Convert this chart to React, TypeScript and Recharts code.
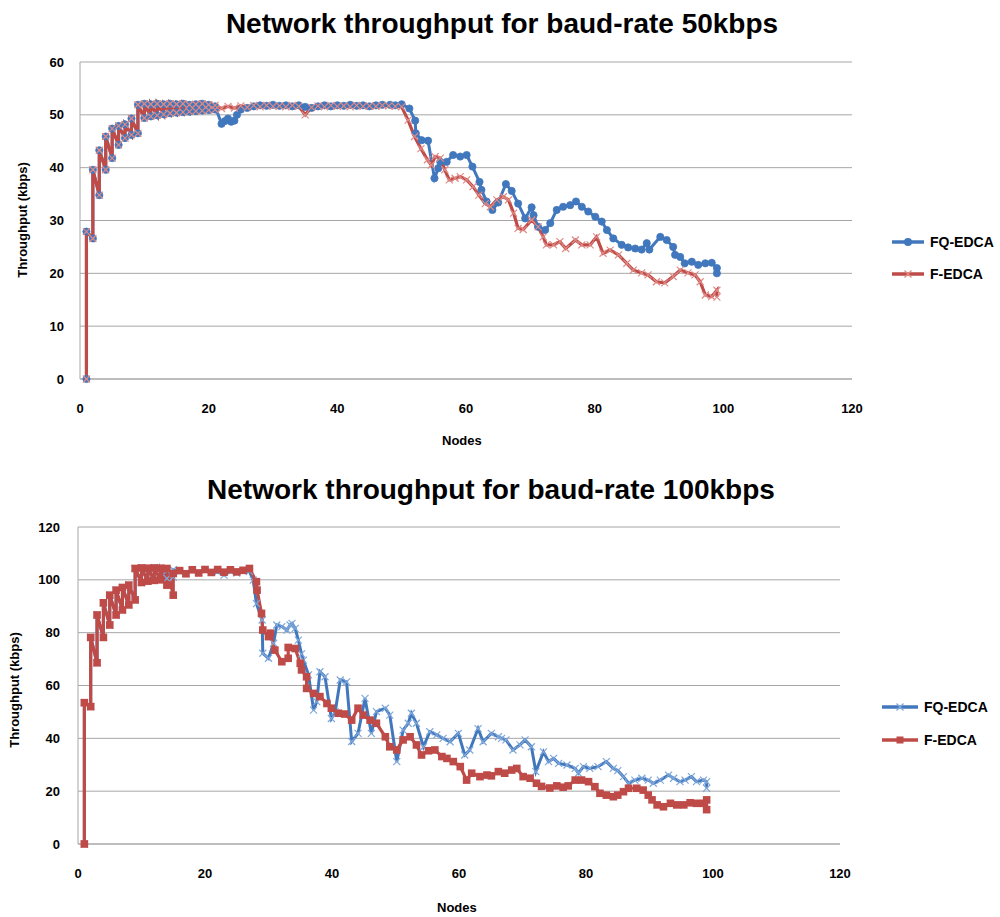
import React from "react";
import { LineChart, Line, XAxis, YAxis, CartesianGrid } from "recharts";

// ---------- data (node, throughput kbps) ----------
const TITLE_TOP = "Network throughput for baud-rate 50kbps";
const TITLE_BOTTOM = "Network throughput for baud-rate 100kbps";
const SERIES_NAMES = ["FQ-EDCA", "F-EDCA"];
const X_TICKS = [0, 20, 40, 60, 80, 100, 120];
const Y_TICKS_TOP = [0, 10, 20, 30, 40, 50, 60];
const Y_TICKS_BOTTOM = [0, 20, 40, 60, 80, 100, 120];

const top50F: [number, number][] = [
  [1, 0], [1, 27.9], [2, 26.6], [2, 39.6], [3, 34.8], [3, 43.3], [4, 39.6], [4, 45.9], [5, 41.8], [5, 47.4],
  [6, 44.3], [6, 47.9], [7, 45.6], [7, 48.2], [8, 46.2], [8, 49.3], [9, 46.5], [9, 51.9],
  [10, 49.4], [10, 52.1], [11, 49.7], [11, 52.0], [12, 49.9], [12, 52.1], [13, 50.1], [13, 52.0],
  [14, 50.3], [14, 52.1], [15, 50.4], [15, 52.0], [16, 50.5], [16, 52.1], [17, 50.6], [17, 51.9],
  [18, 50.7], [18, 52.0], [19, 50.8], [19, 52.1], [20, 50.9], [20, 51.9], [21, 51.0], [21, 51.8],
  [22, 51.2], [23, 51.6], [24, 51.3], [25, 51.7], [26, 51.4], [27, 51.8], [28, 51.5], [29, 51.8],
  [30, 51.6], [31, 51.7], [32, 51.5], [33, 51.8], [34, 51.6], [35, 50.0], [36, 51.4], [37, 51.7],
  [38, 51.5], [39, 51.8], [40, 51.6], [41, 51.7], [42, 51.5], [43, 51.8], [44, 51.6], [45, 51.7],
  [46, 51.6], [47, 51.8], [48, 51.7], [49, 51.6], [50, 51.5], [51, 49.0], [52, 45.9], [53, 43.6],
  [54, 41.5], [54.6, 40.5], [55.2, 42.1], [56, 41.8], [56.7, 39.6], [57.4, 37.7], [58.3, 38.0],
  [59.1, 38.3], [60.1, 37.7], [61.1, 36.4], [62, 34.8], [63, 33.2], [63.8, 32.6], [64.8, 33.9],
  [65.8, 34.5], [66.6, 33.9], [67.4, 31.4], [68.1, 28.5], [68.9, 28.3], [70.2, 30.1], [71.2, 28.8],
  [72, 26.9], [72.5, 25.4], [73.6, 25.4], [74.6, 26.0], [75.5, 24.7], [77, 26.3], [78, 25.4],
  [79.3, 25.4], [80.3, 26.9], [81.3, 23.8], [82.4, 24.4], [83.7, 23.5], [85, 21.9], [86, 20.6],
  [87.3, 20.1], [88.3, 19.7], [89.6, 18.4], [90.9, 18.2], [92.2, 19.4], [93.3, 20.6], [94.5, 20.1],
  [95.6, 19.7], [96.4, 18.4], [97.2, 15.9], [98.2, 15.6], [99, 16.8], [99, 15.5],
];

const top50FQ: [number, number][] = [
  [1, 0], [1, 27.9], [2, 26.6], [2, 39.6], [3, 34.8], [3, 43.3], [4, 39.6], [4, 45.9], [5, 41.8], [5, 47.4],
  [6, 44.3], [6, 47.9], [7, 45.6], [7, 48.2], [8, 46.2], [8, 49.3], [9, 46.5], [9, 51.9],
  [10, 49.4], [10, 52.1], [11, 49.7], [11, 52.0], [12, 49.9], [12, 52.1], [13, 50.1], [13, 52.0],
  [14, 50.3], [14, 52.1], [15, 50.4], [15, 52.0], [16, 50.5], [16, 52.1], [17, 50.6], [17, 51.9],
  [18, 50.7], [18, 52.0], [19, 50.8], [19, 52.1], [20, 50.9], [20, 51.9], [21, 51.0], [21, 51.6],
  [22, 48.3], [22.5, 48.8], [23, 49.3], [23.5, 48.7], [24, 48.9], [24.4, 50.0], [25, 51.0], [26, 51.3],
  [27, 51.6], [28, 51.8], [29, 51.7], [30, 51.9], [31, 51.7], [32, 51.8], [33, 51.6], [34, 51.8],
  [35, 51.5], [36, 51.3], [37, 51.6], [38, 51.8], [39, 51.6], [40, 51.8], [41, 51.7], [42, 51.9],
  [43, 51.7], [44, 51.8], [45, 51.6], [46, 51.8], [47, 51.9], [48.2, 51.9], [49, 51.8], [50, 52.0],
  [51.2, 51.2], [52.1, 48.9], [52.2, 46.5], [53.1, 45.2], [54.1, 45.1], [55.1, 38.0], [55.7, 39.9],
  [56, 41.1], [57, 41.1], [58, 42.4], [59.1, 42.1], [60.1, 42.4], [61, 40.2], [62.1, 37.3],
  [62.4, 35.8], [63.2, 33.6], [64.1, 32.0], [65, 33.4], [66.2, 36.9], [67.1, 35.6], [68.1, 33.2],
  [69.2, 30.4], [70.2, 32.5], [70.5, 31.0], [71.2, 28.8], [72.3, 28.2], [73.1, 29.5], [74.1, 32.0],
  [75.1, 32.6], [76.2, 32.9], [77.1, 33.6], [78, 32.6], [79, 31.7], [80.1, 30.7], [81.1, 29.8],
  [81.9, 28.2], [82.9, 26.6], [84.2, 25.4], [85.2, 24.9], [86.3, 24.7], [87.3, 24.5], [88.1, 25.7],
  [88.5, 24.5], [90.2, 26.9], [91.2, 26.3], [92.2, 25.0], [92.5, 23.5], [93.3, 23.1], [94, 21.9],
  [95.1, 22.2], [96.1, 21.6], [97.2, 21.9], [98.2, 22.0], [99, 21.0], [99, 20.0],
];

const bot100F: [number, number][] = [
  [1, 0], [1, 53.5], [2, 52], [2, 78.2], [3, 68.6], [3, 86.7], [4, 78.2], [4, 91.3], [5, 82.9], [5, 94.2],
  [6, 86.7], [6, 96.1], [7, 88.6], [7, 97.1], [8, 90.5], [8, 98.0], [9, 92.4], [9, 104.3],
  [10, 99], [10, 104.5], [11, 99.5], [11, 104.4], [12, 99.8], [12, 104.5], [13, 100], [13, 104.4],
  [14, 98.0], [14, 104.3], [15, 94.2], [15, 102.4], [16, 103.5], [17, 102.3], [18, 103.8], [19, 102.6],
  [20, 103.9], [21, 102.8], [22, 103.9], [23, 102.9], [24, 103.8], [25, 103.0], [26, 103.6], [27, 104.3],
  [28.1, 99.3], [28.2, 96.1], [28.9, 87.3], [29.1, 81.0], [30, 78.5], [30.3, 79.8], [31, 73.4], [32.1, 69],
  [33.1, 70.3], [33.1, 74.4], [34.2, 74.0], [35, 68.4], [35.2, 65.9], [36, 63.3], [36, 58.9], [37.1, 57],
  [38.1, 55.8], [39.2, 53.2], [39.9, 51.4], [41, 49.5], [42, 49.2], [43.1, 46.9], [44.1, 51.4], [44.9, 48.8],
  [46, 46.9], [47, 45.7], [48.4, 40.6], [49.1, 36.8], [50.2, 35.6], [51.2, 39.4], [52.3, 40.6], [53.3, 37.5],
  [54.1, 33.7], [55.2, 35.3], [56.2, 35.6], [57.3, 33.1], [58.1, 32.4], [59.1, 31.2], [60.2, 29.3], [61.2, 24.2],
  [62, 26.8], [63.3, 25.5], [64.4, 26.1], [65.1, 25.8], [66.2, 27.4], [67.2, 26.8], [68.3, 28.0], [69.1, 28.6],
  [70.1, 25.5], [71.2, 24.9], [72.2, 23.0], [73, 21.8], [74.3, 21.2], [75.4, 22], [76.4, 21.5], [77.2, 22.0],
  [78.3, 24.2], [79.3, 24.2], [80.4, 23.6], [81.4, 21.7], [82.2, 19.2], [83.2, 18.5], [84.3, 17.9], [85, 18.5],
  [85.9, 19.8], [86.7, 21.1], [88, 21.1], [89, 20.4], [89.8, 18.5], [90.4, 16.7], [91.2, 14.8], [92.2, 14.1],
  [93.3, 15.4], [94.3, 14.8], [95.4, 14.8], [96.4, 15.6], [97.4, 15.4], [98.5, 15.4], [99, 16.7], [99, 13.0],
];

const bot100FQ: [number, number][] = [
  [1, 0], [1, 53.5], [2, 52], [2, 78.2], [3, 68.6], [3, 86.7], [4, 78.2], [4, 91.3], [5, 82.9], [5, 94.2],
  [6, 86.7], [6, 96.1], [7, 88.6], [7, 97.1], [8, 90.5], [8, 98.0], [9, 92.4], [9, 104.3],
  [10, 99], [10, 104.5], [11, 99.5], [11, 104.4], [12, 99.8], [12, 104.5], [13, 100], [13, 104.4],
  [14, 100.5], [14, 103.5], [15, 101], [15, 103.8], [16, 103.2], [17, 102.5], [18, 103.6], [19, 102.8],
  [20, 103.7], [21, 102.9], [22, 103.0], [23, 101.8], [24, 103.2], [25, 102.6], [26, 103.4], [27, 103.2],
  [27.6, 99.9], [28.1, 91], [29, 84.8], [29.1, 72.2], [30, 70.3], [30.8, 76], [31.3, 82.9], [32.1, 82.3],
  [32.9, 81], [33.4, 82.9], [33.7, 83.5], [34.2, 81.6], [34.7, 77.2], [35.2, 72], [35.5, 69.6], [36.3, 64],
  [37.1, 50.7], [37.6, 53.9], [38.1, 65.2], [38.9, 63.3], [39.9, 47.5], [40.5, 50], [41.3, 62.1], [42.3, 61.4],
  [43.1, 38.8], [44.1, 41.9], [45.2, 55.1], [46.2, 41.9], [47, 50.1], [48.4, 51.4], [49.1, 48.8], [50.2, 31.2],
  [51.2, 43.1], [52, 45.7], [52.5, 49.5], [53.3, 45.7], [54.4, 36.8], [55.4, 42.5], [56.5, 41.3], [57.5, 40],
  [58.6, 38.7], [59.9, 41.9], [60.9, 33.7], [61.7, 35.6], [63, 43.7], [63.8, 38.7], [65.1, 41.9], [66.2, 40.6],
  [66.7, 40.0], [67.4, 39.4], [68.5, 35.6], [69.6, 37.5], [70.4, 39.4], [71.4, 36.8], [72.1, 27.4], [73.3, 34.9],
  [74.1, 31.2], [74.9, 32.4], [75.7, 30.5], [77, 29.9], [78.3, 28.6], [78.8, 26.8], [79.6, 29.3], [80.6, 28.6],
  [81.9, 29.3], [83.2, 31.2], [84.3, 28.6], [85, 27.8], [85.9, 25.5], [86.7, 23], [87.7, 24.2], [88.8, 24.9],
  [89.8, 24.2], [90.6, 23], [91.7, 24.2], [93, 26.1], [93.8, 24.9], [94.8, 23.6], [95.6, 24.2], [96.6, 25.5],
  [97.4, 23.6], [98.5, 24.2], [99, 23.6], [99, 21.1],
];

// ---------- styling ----------
const BLUE = "#4177BD";
const RED = "#BE4B48";
const LIGHT_BLUE = "#7FA7DA";
const LIGHT_RED = "#E08A86";
const GRID = "#A6A6A6";
const FONT = "'Liberation Sans', Arial, sans-serif";

const toObj = (arr: [number, number][]) => arr.map(([x, y]) => ({ x, y }));

const CircleDot = (p: any) => {
  if (p.cx == null || p.cy == null) return <g key={p.key} />;
  return <circle key={p.key} cx={p.cx} cy={p.cy} r={3.6} fill={BLUE} stroke={BLUE} strokeWidth={0.8} />;
};
const makeCross = (color: string) => (p: any) => {
  if (p.cx == null || p.cy == null) return <g key={p.key} />;
  const s = 3.5;
  return (
    <g key={p.key}>
      <line x1={p.cx - s} y1={p.cy - s} x2={p.cx + s} y2={p.cy + s} stroke={color} strokeWidth={1.2} />
      <line x1={p.cx - s} y1={p.cy + s} x2={p.cx + s} y2={p.cy - s} stroke={color} strokeWidth={1.2} />
    </g>
  );
};
const RedCross = makeCross(LIGHT_RED);
const BlueCross = makeCross(LIGHT_BLUE);
const SquareDot = (p: any) => {
  if (p.cx == null || p.cy == null) return <g key={p.key} />;
  return <rect key={p.key} x={p.cx - 3.8} y={p.cy - 3.8} width={7.6} height={7.6} fill={RED} />;
};

const tickStyle = { fill: "#000", fontSize: 13, fontWeight: 700, fontFamily: FONT };

const abs = (left: number, top: number, extra: React.CSSProperties = {}): React.CSSProperties => ({
  position: "absolute",
  left,
  top,
  fontFamily: FONT,
  fontWeight: 700,
  color: "#000",
  whiteSpace: "nowrap",
  lineHeight: 1,
  ...extra,
});

const LegendItem = ({ x, y, color, marker, label, width }: any) => (
  <div style={abs(x, y - 9, { display: "flex", alignItems: "center", fontSize: 14 })}>
    <svg width={width} height={18} style={{ marginRight: 6 }}>
      <line x1={0} y1={9} x2={width} y2={9} stroke={color} strokeWidth={3.5} />
      {marker === "circle" && <circle cx={width / 2} cy={9} r={4} fill={BLUE} />}
      {marker === "xred" && (
        <g>
          <line x1={width / 2 - 3.5} y1={5.5} x2={width / 2 + 3.5} y2={12.5} stroke={LIGHT_RED} strokeWidth={1.2} />
          <line x1={width / 2 - 3.5} y1={12.5} x2={width / 2 + 3.5} y2={5.5} stroke={LIGHT_RED} strokeWidth={1.2} />
        </g>
      )}
      {marker === "xblue" && (
        <g>
          <line x1={width / 2 - 3.5} y1={5.5} x2={width / 2 + 3.5} y2={12.5} stroke={LIGHT_BLUE} strokeWidth={1.2} />
          <line x1={width / 2 - 3.5} y1={12.5} x2={width / 2 + 3.5} y2={5.5} stroke={LIGHT_BLUE} strokeWidth={1.2} />
        </g>
      )}
      {marker === "square" && <rect x={width / 2 - 3.5} y={5.5} width={7} height={7} fill={RED} />}
    </svg>
    <span>{label}</span>
  </div>
);

export default function App() {
  return (
    <div style={{ position: "absolute", left: 0, top: 0, width: 1000, height: 917, background: "#fff", overflow: "hidden" }}>
      {/* Top chart */}
      <div style={abs(0, 10, { width: 1004, textAlign: "center", fontSize: 28 })}>{TITLE_TOP}</div>
      <div style={{ position: "absolute", left: 0, top: 0 }}>
        <LineChart width={1000} height={460} margin={{ top: 62, right: 148, left: 30, bottom: 51 }}>
          <CartesianGrid vertical={false} stroke={GRID} strokeWidth={1} />
          <XAxis
            type="number"
            dataKey="x"
            domain={[0, 120]}
            ticks={X_TICKS}
            height={30}
            axisLine={{ stroke: GRID }}
            tickLine={false}
            tickMargin={19}
            tick={tickStyle}
          />
          <YAxis
            type="number"
            domain={[0, 60]}
            ticks={Y_TICKS_TOP}
            width={50}
            axisLine={{ stroke: GRID }}
            tickLine={false}
            tickMargin={10}
            tick={tickStyle}
          />
          <Line data={toObj(top50FQ)} dataKey="y" name={SERIES_NAMES[0]} type="linear" stroke={BLUE} strokeWidth={3} dot={CircleDot} activeDot={false} isAnimationActive={false} />
          <Line data={toObj(top50F)} dataKey="y" name={SERIES_NAMES[1]} type="linear" stroke={RED} strokeWidth={3.2} dot={RedCross} activeDot={false} isAnimationActive={false} />
        </LineChart>
      </div>
      <div style={abs(466 - 24, 434, { fontSize: 13 })}>Nodes</div>
      <div style={abs(22, 220, { fontSize: 13, transform: "translate(-50%, -50%) rotate(-90deg)" })}>Throughput (kbps)</div>
      <LegendItem x={892} y={242} color={BLUE} marker="circle" label={SERIES_NAMES[0]} width={32} />
      <LegendItem x={892} y={274} color={RED} marker="xred" label={SERIES_NAMES[1]} width={32} />

      {/* Bottom chart */}
      <div style={abs(0, 476, { width: 982, textAlign: "center", fontSize: 28 })}>{TITLE_BOTTOM}</div>
      <div style={{ position: "absolute", left: 0, top: 460 }}>
        <LineChart width={1000} height={457} margin={{ top: 67, right: 160, left: 28, bottom: 43 }}>
          <CartesianGrid vertical={false} stroke={GRID} strokeWidth={1} />
          <XAxis
            type="number"
            dataKey="x"
            domain={[0, 120]}
            ticks={X_TICKS}
            height={30}
            axisLine={{ stroke: GRID }}
            tickLine={false}
            tickMargin={19}
            tick={tickStyle}
          />
          <YAxis
            type="number"
            domain={[0, 120]}
            ticks={Y_TICKS_BOTTOM}
            width={50}
            axisLine={{ stroke: GRID }}
            tickLine={false}
            tickMargin={12}
            tick={tickStyle}
          />
          <Line data={toObj(bot100FQ)} dataKey="y" name={SERIES_NAMES[0]} type="linear" stroke={BLUE} strokeWidth={3} dot={BlueCross} activeDot={false} isAnimationActive={false} />
          <Line data={toObj(bot100F)} dataKey="y" name={SERIES_NAMES[1]} type="linear" stroke={RED} strokeWidth={3.2} dot={SquareDot} activeDot={false} isAnimationActive={false} />
        </LineChart>
      </div>
      <div style={abs(461 - 24, 901, { fontSize: 13 })}>Nodes</div>
      <div style={abs(14, 690, { fontSize: 13, transform: "translate(-50%, -50%) rotate(-90deg)" })}>Throughput (kbps)</div>
      <LegendItem x={882} y={707} color={BLUE} marker="xblue" label={SERIES_NAMES[0]} width={36} />
      <LegendItem x={882} y={740} color={RED} marker="square" label={SERIES_NAMES[1]} width={36} />
    </div>
  );
}
